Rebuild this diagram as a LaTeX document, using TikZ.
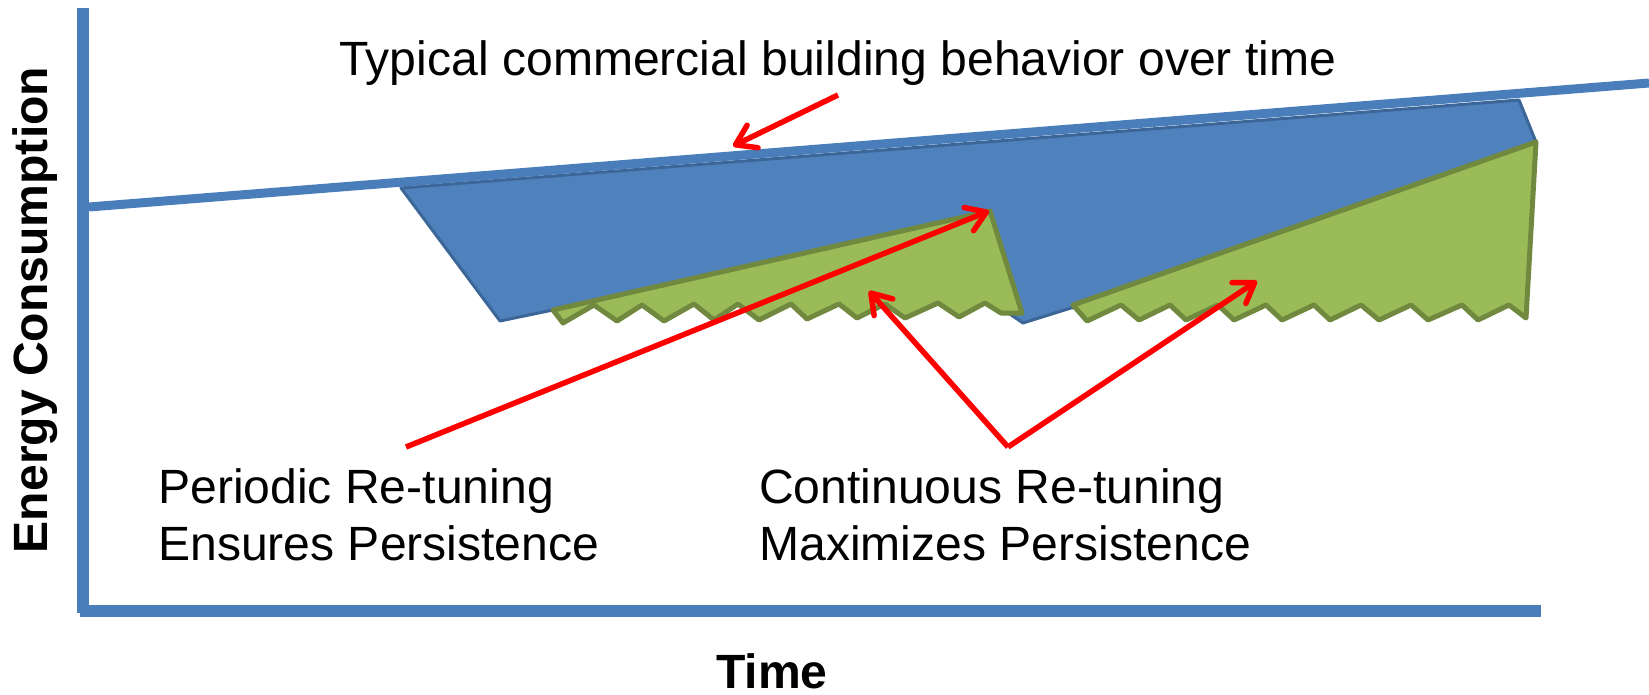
\documentclass[tikz,border=0pt]{standalone}
\usepackage{fontspec}
\setmainfont{Liberation Sans}
\usetikzlibrary{arrows.meta}
\definecolor{axisblue}{HTML}{4A7EBB}
\definecolor{fillblue}{HTML}{4F81BD}
\definecolor{edgeblue}{HTML}{3C6697}
\definecolor{fillgreen}{HTML}{9BBB59}
\definecolor{edgegreen}{HTML}{71893F}
\definecolor{arrowred}{HTML}{FF0000}
\tikzset{
  axisline/.style={draw=axisblue, line width=12pt},
  trendline/.style={draw=axisblue, line width=9pt},
  bluearea/.style={fill=fillblue, draw=edgeblue, line width=3pt, line join=round},
  greenarea/.style={fill=fillgreen, draw=edgegreen, line width=5pt, line join=round},
  redarrow/.style={draw=arrowred, line width=5.5pt, -{Straight Barb[length=19pt,width=25pt,round]}},
  label/.style={inner sep=0pt, font=\fontsize{48.1}{57}\selectfont},
  boldlabel/.style={inner sep=0pt, font=\fontsize{48.1}{57}\selectfont\bfseries},
}
\begin{document}
\begin{tikzpicture}[x=1pt,y=-1pt]
\useasboundingbox (0,0) rectangle (1649,695);
% blue area
\path[bluearea] (401,188) -- (500,321) -- (553,310) -- (575,304) -- (995,304) -- (1023,323)
  -- (1071,308) -- (1100,304) -- (1518,304) -- (1536,142) -- (1519,100) -- cycle;
% trend line
\coordinate (trendL) at (89,207);
\coordinate (trendR) at (1649,83);
\draw[trendline] (trendL) -- (trendR);
% axes
\coordinate (axTop) at (83,8);
\coordinate (axBot) at (83,613);
\coordinate (axL) at (80,611);
\coordinate (axR) at (1541,611);
\draw[axisline] (axTop) -- (axBot);
\draw[axisline] (axL) -- (axR);
% green areas
\path[greenarea] (553,310) -- (990,211) -- (1022,313) -- (1001,313) -- (985,303)
  -- (959,317) -- (938,303) -- (905,318) -- (885,304) -- (857,318) -- (839,304)
  -- (807,319) -- (791,304) -- (759,320) -- (738,304) -- (714,320) -- (694,304)
  -- (664,321) -- (642,305) -- (617,321) -- (594,305) -- (563,323) -- cycle;
\path[greenarea] (1073,305) -- (1536,142) -- (1526,318) -- (1509,305) -- (1478,320)
  -- (1462,305) -- (1428,320) -- (1411,305) -- (1379,320) -- (1361,305) -- (1330,320)
  -- (1314,305) -- (1282,320) -- (1266,305) -- (1234,320) -- (1218,305) -- (1186,320)
  -- (1170,305) -- (1139,320) -- (1121,305) -- (1087,321) -- cycle;
% arrow end points
\coordinate (a1s) at (838,95);
\coordinate (a1e) at (733,146);
\coordinate (a2s) at (406,447);
\coordinate (a2e) at (989,211);
\coordinate (a3s) at (1008,447);
\coordinate (a3e) at (869,291);
\coordinate (a4e) at (1257,281);
\draw[redarrow] (a1s) -- (a1e);
\draw[redarrow] (a2s) -- (a2e);
\draw[redarrow] (a3s) -- (a3e);
\draw[redarrow] (a3s) -- (a4e);
% texts
\node[label, anchor=base west] (title) at (339,76) {Typical commercial building behavior over time};
\node[label, anchor=base west] (per1) at (158,503) {Periodic Re-tuning};
\node[label, anchor=base west] (per2) at (158,560) {Ensures Persistence};
\node[label, anchor=base west] (con1) at (759,503) {Continuous Re-tuning};
\node[label, anchor=base west] (con2) at (759,560) {Maximizes Persistence};
\node[boldlabel, anchor=base] (xlab) at (772,688) {Time};
\node[boldlabel, anchor=base, rotate=90] (ylab) at (47,310) {Energy Consumption};
\end{tikzpicture}
\end{document}
